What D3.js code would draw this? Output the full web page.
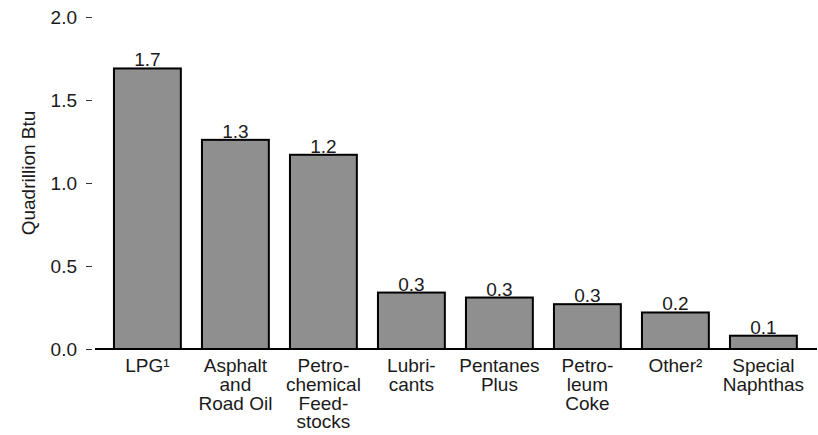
<!DOCTYPE html>
<html><head><meta charset="utf-8">
<script src="https://cdn.jsdelivr.net/npm/d3@7"></script>
<style>body{margin:0;background:#fff}svg{display:block}text{font-family:"Liberation Sans",Arial,sans-serif;fill:#1a1a1a}</style>
</head><body>
<svg id="chart" width="818" height="435"></svg>
<script>
const categories = [
  ["LPG\u00B9"],
  ["Asphalt","and","Road Oil"],
  ["Petro-","chemical","Feed-","stocks"],
  ["Lubri-","cants"],
  ["Pentanes","Plus"],
  ["Petro-","leum","Coke"],
  ["Other\u00B2"],
  ["Special","Naphthas"]
];
const values = [1.69, 1.26, 1.17, 0.34, 0.31, 0.27, 0.22, 0.08];
const valueLabels = ["1.7","1.3","1.2","0.3","0.3","0.3","0.2","0.1"];
const yTicks = [0, 0.5, 1.0, 1.5, 2.0];
const yTitle = "Quadrillion Btu";

const svg = d3.select("#chart");
const x = d3.scaleBand().domain(d3.range(categories.length))
  .range([103.4, 807.4]).paddingInner(0.24).paddingOuter(0.12);
const y = d3.scaleLinear().domain([0, 2]).range([349, 17]);

// y axis
const yAxis = d3.axisLeft(y).tickValues(yTicks).tickFormat(d3.format(".1f")).tickSize(6).tickPadding(9);
const gy = svg.append("g").attr("transform","translate(92,0)").call(yAxis);
gy.select(".domain").remove();
gy.selectAll(".tick line").attr("stroke","#333").attr("stroke-width",1);
gy.selectAll(".tick text").style("font-size","19px").attr("fill","#1a1a1a");

svg.append("text").attr("transform","translate(35,173) rotate(-90)")
  .attr("text-anchor","middle").style("font-size","19px").text(yTitle);

// bars
svg.selectAll("rect.bar").data(values).join("rect").attr("class","bar")
  .attr("x",(d,i)=>x(i)).attr("width",x.bandwidth())
  .attr("y",d=>y(d)).attr("height",d=>y(0)-y(d))
  .attr("fill","#8f8f8f").attr("stroke","#000").attr("stroke-width",2);

// baseline
svg.append("line").attr("x1",95).attr("x2",817).attr("y1",y(0)).attr("y2",y(0))
  .attr("stroke","#000").attr("stroke-width",2);

// value labels
svg.selectAll("text.val").data(values).join("text").attr("class","val")
  .attr("x",(d,i)=>x(i)+x.bandwidth()/2).attr("y",d=>y(d)-2)
  .attr("text-anchor","middle").style("font-size","19px")
  .text((d,i)=>valueLabels[i]);

// category labels
const cg = svg.selectAll("text.cat").data(categories).join("text").attr("class","cat")
  .attr("text-anchor","middle").style("font-size","19px")
  .attr("transform",(d,i)=>`translate(${x(i)+x.bandwidth()/2},372)`);
cg.selectAll("tspan").data(d=>d).join("tspan")
  .attr("x",0).attr("dy",(d,j)=>j===0?0:18.8).text(d=>d);
</script>
</body></html>
